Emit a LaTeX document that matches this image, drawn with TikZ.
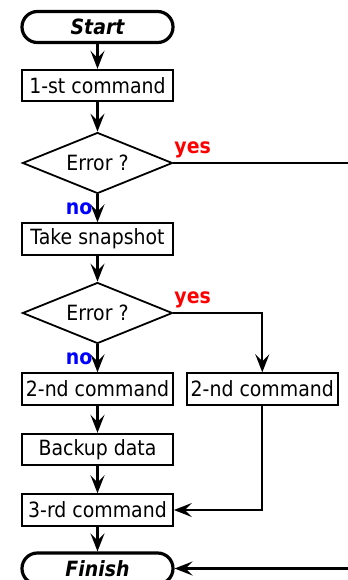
\documentclass[tikz,border=0pt]{standalone}
\usepackage{fontspec}
\setmainfont{DejaVu Sans}[FakeStretch=0.9]
\usetikzlibrary{shapes.geometric,positioning,arrows.meta}
\newcommand\chartfont{\fontsize{10.5}{12}\selectfont}
\tikzset{
  >={Stealth[length=9pt,width=7pt,inset=3.5pt]},
  cmd/.style={draw,line width=0.9pt,minimum width=75.5pt,minimum height=15.8pt,inner sep=1pt,font=\chartfont},
  term/.style={draw,line width=1.6pt,rounded corners=7.7pt,minimum width=75.5pt,
    minimum height=15.5pt,inner sep=1pt,font=\chartfont\bfseries\itshape},
  test/.style={draw,diamond,aspect=2.5,line width=0.9pt,minimum width=75pt,minimum height=30.5pt,
    inner sep=0pt,font=\chartfont},
  flow/.style={->,line width=1.1pt},
  yes/.style={text=red,font=\chartfont\bfseries,inner sep=0pt},
  no/.style={text=blue,font=\chartfont\bfseries,inner sep=0pt},
}

\begin{document}
\begin{tikzpicture}[
  x=0.5pt,y=-0.5pt
]
\useasboundingbox (0,0) rectangle (348,580);
\clip (0,0) rectangle (348,580);

\node[term] (start) at (97.5,27) {Start};
\node[cmd] (cmd1) at (97.5,85.5) {1-st command};
\node[test] (err1) at (97.5,163) {Error ?};
\node[cmd] (snap) at (97.5,239) {Take snapshot};
\node[test] (err2) at (97.5,313) {Error ?};
\node[cmd] (cmd2) at (97.5,389) {2-nd command};
\node[cmd,right=6pt of cmd2] (cmd2b) {2-nd command};
\node[cmd] (backup) at (97.5,449.5) {Backup data};
\node[cmd] (cmd3) at (97.5,510) {3-rd command};
\node[term] (finish) at (97.5,568.5) {Finish};

% the yes branch of the first test runs off to the right
\coordinate (rim) at (358,0);

\draw[flow] (start) -- (cmd1);
\draw[flow] (cmd1) -- (err1);
\draw[flow] (err1.south) node[no,anchor=north east,xshift=-2pt,yshift=-3.5pt] {no} -- (snap);
\draw[flow] (err1.east) node[yes,anchor=south west,yshift=2pt] {yes}
  -- (err1.east -| rim) |- (finish.east);

\draw[flow] (snap) -- (err2);
\draw[flow] (err2.south) node[no,anchor=north east,xshift=-2pt,yshift=-3.5pt] {no} -- (cmd2);
\draw[flow] (err2.east) node[yes,anchor=south west,yshift=2pt] {yes} -| (cmd2b.north);

\draw[flow] (cmd2) -- (backup);
\draw[flow] (backup) -- (cmd3);
\draw[flow] (cmd2b.south) |- (cmd3.east);
\draw[flow] (cmd3) -- (finish);

\end{tikzpicture}
\end{document}
